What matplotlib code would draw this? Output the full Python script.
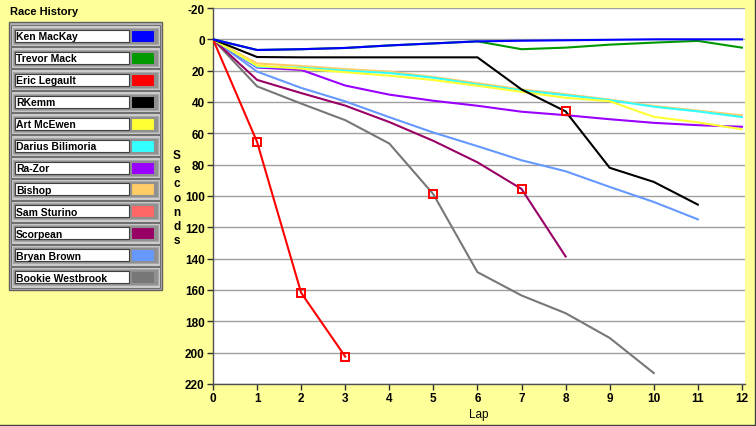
import matplotlib
matplotlib.use("Agg")
import matplotlib.pyplot as plt
from matplotlib.patches import Rectangle

plt.rcParams['font.family'] = ['Liberation Sans', 'DejaVu Sans']
plt.rcParams['axes.unicode_minus'] = False

# ---- data (seconds behind, per lap) ----
names = ["Ken MacKay", "Trevor Mack", "Eric Legault", "RKemm", "Art McEwen",
         "Darius Bilimoria", "Ra-Zor", "Bishop", "Sam Sturino", "Scorpean",
         "Bryan Brown", "Bookie Westbrook"]
colors = ["#0000FF", "#009900", "#FF0000", "#000000", "#FFFF33", "#33FFFF",
          "#9900FF", "#FFCC66", "#FF6666", "#990066", "#6699FF", "#777777"]

ken = [0, 6.8, 6.3, 5.5, 3.9, 2.6, 1.3, 0.9, 0.6, 0.3, 0, 0, 0]
trevor = [0, 6.8, 6.3, 5.5, 3.9, 2.6, 1.3, 6.3, 5.3, 3.4, 2.1, 1.0, 5.3]
eric = [0, 65.5, 161.8, 202.5]
rkemm = [0, 11.3, 11.5, 11.5, 11.5, 11.5, 11.5, 32, 46, 82, 91, 105.5]
art = [0, 16.8, 18.7, 21, 23.2, 26, 29.6, 33.5, 37.3, 39.5, 49.5, 53, 57.4]
darius = [0, 17.5, 18.1, 20, 21.5, 24.5, 28.8, 32.6, 35.6, 38.8, 43, 46, 49.6]
razor = [0, 18, 19.5, 29.5, 35.3, 39.2, 42.4, 46.2, 48.4, 51, 53.3, 54.8, 55.8]
bishop = [0, 15.4, 17, 19, 20.6, 24, 28, 32, 35, 38.5, 42.5, 45.5, 48.5]
sam = []
scorpean = [0, 25.9, 34.3, 42.3, 52.8, 64.8, 78.5, 95.5, 138.6]
bryan = [0, 20.6, 31, 39.6, 49.7, 59.5, 68.2, 77.2, 84.2, 94.2, 103.8, 114.9]
bookie = [0, 30, 41, 51.6, 66.5, 98.9, 148.6, 163.5, 174.8, 190.6, 213]

series = [ken, trevor, eric, rkemm, art, darius, razor, bishop, sam,
          scorpean, bryan, bookie]

# red square markers
mark_laps = [1, 2, 3, 5, 7, 8]
mark_secs = [65.5, 161.8, 202.5, 98.9, 95.5, 46]

yticks = list(range(-20, 221, 20))
xticks = list(range(0, 13))

bg = "#FFFF99"
W, H = 756, 427
fig = plt.figure(figsize=(W / 100, H / 100), dpi=100, facecolor=bg)

# decoration layer in pixel coordinates
deco = fig.add_axes([0, 0, 1, 1])
deco.set_xlim(0, W)
deco.set_ylim(H, 0)
deco.axis('off')

ax = fig.add_axes([213 / W, 42 / H, 532 / W, 376 / H])
ax.set_facecolor('white')
n = len(series)
for i, (nm, c, s) in enumerate(zip(names, colors, series)):
    if len(s) == 0:
        continue
    ax.plot(range(len(s)), s, color=c, lw=1.5, zorder=2 + (n - i) * 0.1,
            solid_joinstyle='miter')
ax.plot(mark_laps, mark_secs, ls='none', marker='s', ms=5.5, mew=1.4,
        mec='#FF0000', mfc='none', zorder=5)

ax.set_xlim(0, 12.07)
ax.set_ylim(220, -20)
ax.set_xticks(xticks)
ax.set_yticks(yticks)
ax.yaxis.grid(True, color='#A0A0A0', lw=1.0)
ax.set_axisbelow(True)
for sp in ['top', 'right']:
    ax.spines[sp].set_visible(False)
for sp in ['left', 'bottom']:
    ax.spines[sp].set_color('#505050')
    ax.spines[sp].set_linewidth(1.0)
ax.tick_params(direction='out', length=4, width=1, color='#303030',
               labelsize=8.5, pad=2)
for lab in ax.get_xticklabels() + ax.get_yticklabels():
    lab.set_fontweight('bold')
ax.set_xlabel('Lap', fontsize=8.5, labelpad=3)

# vertical "Seconds" label
for k, ch in enumerate("Seconds"):
    deco.text(177, 156 + k * 14.2, ch, ha='center', va='center',
              fontsize=8.5, fontweight='bold')

# legend panel
deco.text(10, 12, "Race History", ha='left', va='center', fontsize=8,
          fontweight='bold')
deco.add_patch(Rectangle((9, 23), 153, 268, facecolor='#B8B8B8',
                         edgecolor='#606060', lw=1))
for i, (nm, c) in enumerate(zip(names, colors)):
    yc = 36.7 + i * 21.97
    deco.add_patch(Rectangle((11, yc - 10.5), 149, 21, facecolor='#D0D0D0',
                             edgecolor='#707070', lw=0.8))
    deco.add_patch(Rectangle((13, yc - 8), 145, 16, facecolor='#909090',
                             edgecolor='#A8A8A8', lw=0.8))
    deco.add_patch(Rectangle((15, yc - 6), 114, 12, facecolor='white',
                             edgecolor='#404040', lw=0.8))
    deco.add_patch(Rectangle((131, yc - 6), 23, 12, facecolor=c,
                             edgecolor='#909090', lw=0.8))
    deco.text(16, yc + 0.5, nm, ha='left', va='center', fontsize=7.5,
              fontweight='bold')

# frame shadow on right and bottom
deco.plot([755, 755], [0, 426], color='#404040', lw=1)
deco.plot([0, 755], [426, 426], color='#404040', lw=1)

fig.savefig('out.png', dpi=100, facecolor=bg)
